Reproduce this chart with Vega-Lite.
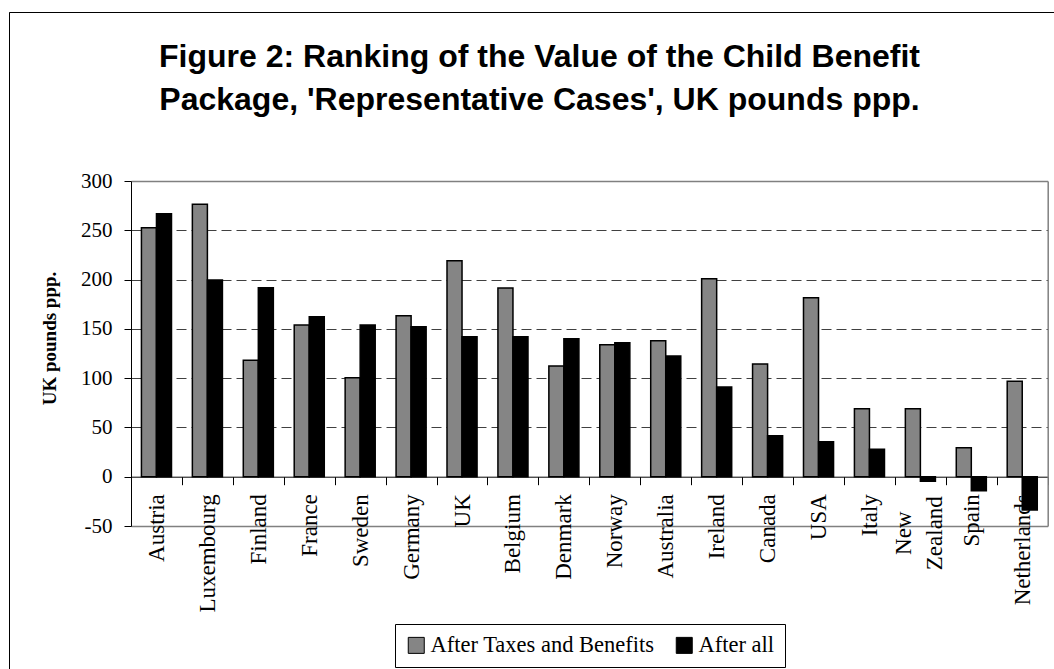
{
  "$schema": "https://vega.github.io/schema/vega-lite/v6.json",
  "width": 1045,
  "height": 657,
  "autosize": {"type": "none"},
  "padding": {"left": 9, "top": 12, "right": 0, "bottom": 0},
  "background": "white",
  "title": {
    "text": ["Figure 2: Ranking of the Value of the Child Benefit", "Package, 'Representative Cases', UK pounds ppp."],
    "font": "Liberation Sans",
    "fontSize": 32,
    "fontWeight": "bold",
    "lineHeight": 43,
    "anchor": "middle",
    "frame": "group",
    "baseline": "alphabetic",
    "offset": -130,
    "dx": 8,
    "color": "black"
  },
  "config": {
    "view": {"stroke": "black", "strokeWidth": 1, "strokeDash": [1045, 1702, 657, 10]},
    "axis": {"labelFont": "Liberation Serif", "titleFont": "Liberation Serif", "labelColor": "black", "titleColor": "black", "domainColor": "black", "tickColor": "black", "domainWidth": 1, "tickWidth": 1}
  },
  "data": {
    "values": [
      {"country": "Austria", "series": "After Taxes and Benefits", "value": 252.6},
      {"country": "Austria", "series": "After all", "value": 266.8},
      {"country": "Luxembourg", "series": "After Taxes and Benefits", "value": 276.4},
      {"country": "Luxembourg", "series": "After all", "value": 199.6},
      {"country": "Finland", "series": "After Taxes and Benefits", "value": 118.1},
      {"country": "Finland", "series": "After all", "value": 191.7},
      {"country": "France", "series": "After Taxes and Benefits", "value": 153.9},
      {"country": "France", "series": "After all", "value": 162.3},
      {"country": "Sweden", "series": "After Taxes and Benefits", "value": 100.4},
      {"country": "Sweden", "series": "After all", "value": 153.9},
      {"country": "Germany", "series": "After Taxes and Benefits", "value": 163.3},
      {"country": "Germany", "series": "After all", "value": 152.2},
      {"country": "UK", "series": "After Taxes and Benefits", "value": 219.1},
      {"country": "UK", "series": "After all", "value": 142.0},
      {"country": "Belgium", "series": "After Taxes and Benefits", "value": 191.4},
      {"country": "Belgium", "series": "After all", "value": 142.0},
      {"country": "Denmark", "series": "After Taxes and Benefits", "value": 112.3},
      {"country": "Denmark", "series": "After all", "value": 140.0},
      {"country": "Norway", "series": "After Taxes and Benefits", "value": 133.9},
      {"country": "Norway", "series": "After all", "value": 135.9},
      {"country": "Australia", "series": "After Taxes and Benefits", "value": 138.0},
      {"country": "Australia", "series": "After all", "value": 122.4},
      {"country": "Ireland", "series": "After Taxes and Benefits", "value": 200.9},
      {"country": "Ireland", "series": "After all", "value": 91.0},
      {"country": "Canada", "series": "After Taxes and Benefits", "value": 114.3},
      {"country": "Canada", "series": "After all", "value": 41.6},
      {"country": "USA", "series": "After Taxes and Benefits", "value": 181.6},
      {"country": "USA", "series": "After all", "value": 35.5},
      {"country": "Italy", "series": "After Taxes and Benefits", "value": 69.0},
      {"country": "Italy", "series": "After all", "value": 27.8},
      {"country": "New Zealand", "series": "After Taxes and Benefits", "value": 69.0},
      {"country": "New Zealand", "series": "After all", "value": -4.7},
      {"country": "Spain", "series": "After Taxes and Benefits", "value": 29.4},
      {"country": "Spain", "series": "After all", "value": -14.2},
      {"country": "Netherlands", "series": "After Taxes and Benefits", "value": 96.8},
      {"country": "Netherlands", "series": "After all", "value": -33.8}
    ]
  },
  "layer": [
    {
      "mark": {"type": "bar", "stroke": "black", "strokeWidth": 1.5},
      "encoding": {
        "x": {
          "field": "country",
          "type": "nominal",
          "sort": null,
          "scale": {"range": [122, 1038.7], "paddingInner": 0, "paddingOuter": 0},
          "axis": {
            "title": null,
            "offset": -192.3,
            "labelAngle": -90,
            "labelFontSize": 23,
            "labelPadding": {"condition": {"test": "datum.value == 'New Zealand'", "value": 48}, "value": 9},
            "labelAlign": {"condition": {"test": "datum.value == 'New Zealand'", "value": "center"}, "value": "right"},
            "labelOffset": {"condition": {"test": "datum.value == 'New Zealand'", "value": -16.4}, "value": 0},
            "tickSize": 8,
            "tickBand": "extent",
            "labelExpr": "datum.label == 'New Zealand' ? ['New', 'Zealand'] : datum.label",
            "labelLineHeight": 31,
            "labelOverlap": false,
            "labelBound": false,
            "grid": false
          }
        },
        "xOffset": {
          "field": "series",
          "type": "nominal",
          "sort": ["After Taxes and Benefits", "After all"],
          "scale": {"paddingInner": 0, "paddingOuter": 0.694}
        },
        "y": {
          "field": "value",
          "type": "quantitative",
          "scale": {"domain": [-50, 300], "range": [514, 169], "nice": false},
          "axis": {
            "orient": "left",
            "values": [-50, 0, 50, 100, 150, 200, 250, 300],
            "labelExpr": "'' + datum.value",
            "offset": -122,
            "tickSize": 7,
            "labelPadding": 12,
            "labelFontSize": 21,
            "title": "UK pounds ppp.",
            "titleFontSize": 19,
            "titleFontWeight": "bold",
            "titleX": -82,
            "titleY": 326,
            "titleAngle": -90,
            "titleAlign": "center",
            "titleBaseline": "middle",
            "grid": true,
            "gridColor": {"condition": {"test": "datum.value == 300 || datum.value == -50", "value": "#808080"}, "value": "#404040"},
            "gridDash": {"condition": {"test": "datum.value == 300 || datum.value == -50", "value": []}, "value": [10, 5]},
            "gridWidth": {"condition": {"test": "datum.value == 300 || datum.value == -50", "value": 1.5}, "value": 1},
            "gridOpacity": {"condition": {"test": "datum.value == 0", "value": 0}, "value": 1}
          }
        },
        "color": {
          "field": "series",
          "type": "nominal",
          "sort": ["After Taxes and Benefits", "After all"],
          "scale": {"domain": ["After Taxes and Benefits", "After all"], "range": ["#858585", "#000000"]},
          "legend": {
            "orient": "none",
            "legendX": 386,
            "legendY": 612,
            "direction": "horizontal",
            "title": null,
            "strokeColor": "black",
            "fillColor": "white",
            "padding": 10,
            "symbolType": "square",
            "symbolSize": 256,
            "symbolStrokeColor": "black",
            "symbolStrokeWidth": 1,
            "symbolOpacity": 1,
            "labelFont": "Liberation Serif",
            "labelFontSize": 22.5,
            "labelColor": "black",
            "labelOffset": 3,
            "columnPadding": 18,
            "labelLimit": 0
          }
        }
      }
    },
    {
      "mark": {"type": "rule", "opacity": 0},
      "encoding": {
        "y": {
          "datum": 0,
          "type": "quantitative",
          "axis": {
            "orient": "right",
            "offset": -6.3,
            "labels": false,
            "ticks": false,
            "grid": false,
            "title": null,
            "domainColor": "#808080",
            "domainWidth": 1.5
          }
        }
      }
    }
  ],
  "resolve": {"axis": {"y": "independent"}}
}
